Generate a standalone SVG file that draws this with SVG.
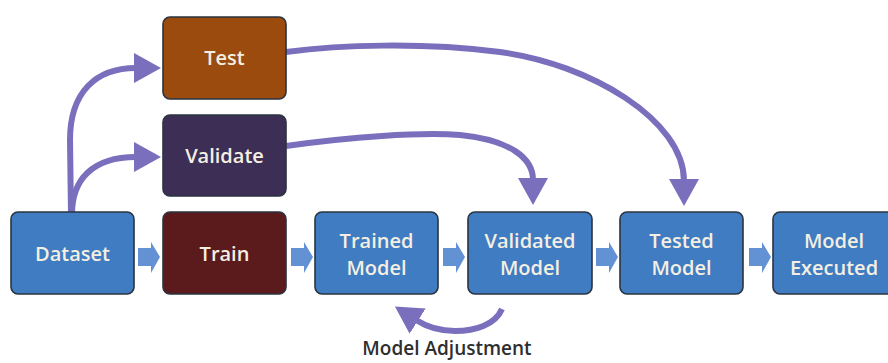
<svg xmlns="http://www.w3.org/2000/svg" width="888" height="363" viewBox="0 0 888 363">
  <style>
    .box { stroke: #2b3340; stroke-width: 1.6; }
    .blue { fill: #3f7cc1; }
    .test { fill: #9b4b0d; }
    .validate { fill: #3d2e55; }
    .train { fill: #5b1b1d; }
    .label { font-family: "Open Sans", "Liberation Sans", sans-serif; font-weight: 600; font-size: 20px; fill: #f4efe2; text-anchor: middle; }
    .flow { fill: none; stroke: #7a6fbd; stroke-width: 6; }
    .step { fill: #6392d4; }
    .caption { font-family: "Open Sans", "Liberation Sans", sans-serif; font-weight: 600; font-size: 19px; fill: #2e2e2e; text-anchor: middle; }
  </style>
  <defs>
    <marker id="head" markerUnits="userSpaceOnUse" markerWidth="30" markerHeight="32" refX="2" refY="15" orient="auto">
      <path d="M0,0 L27,15 L0,30 Z" fill="#7a6fbd"/>
    </marker>
    <path id="step" d="M0,6 H13 V0 L22,15 L13,31 V24 H0 Z"/>
  </defs>

  <rect width="888" height="363" fill="#ffffff"/>

  <!-- connectors -->
  <g id="connectors">
    <path class="flow" d="M71,214 L70,140 C70,92 96,68 136,68" marker-end="url(#head)"/>
    <path class="flow" d="M72,214 C72,180 92,157 136,157" marker-end="url(#head)"/>
    <path class="flow" d="M286,146 C350,137 420,132 460,135 C510,140 533,158 533,180" marker-end="url(#head)"/>
    <path class="flow" d="M286,52 C340,45 420,42 500,52 C590,64 684,120 684,181" marker-end="url(#head)"/>
    <path class="flow" d="M502,309 C495,325 475,331 455,331 C440,331 427,327 416,320" marker-end="url(#head)"/>
    <use href="#step" class="step" x="138" y="242"/>
    <use href="#step" class="step" x="291" y="242"/>
    <use href="#step" class="step" x="443" y="242"/>
    <use href="#step" class="step" x="596" y="242"/>
    <use href="#step" class="step" x="749" y="242"/>
  </g>

  <!-- nodes -->
  <g id="dataset">
    <rect class="box blue" x="11" y="212" width="123" height="82" rx="7"/>
    <text class="label" x="72.5" y="261">Dataset</text>
  </g>
  <g id="test">
    <rect class="box test" x="163" y="17" width="123" height="82" rx="7"/>
    <text class="label" x="224.5" y="65">Test</text>
  </g>
  <g id="validate">
    <rect class="box validate" x="163" y="115" width="123" height="81" rx="7"/>
    <text class="label" x="224.5" y="163">Validate</text>
  </g>
  <g id="train">
    <rect class="box train" x="163" y="212" width="123" height="82" rx="7"/>
    <text class="label" x="224.5" y="261">Train</text>
  </g>
  <g id="trained-model">
    <rect class="box blue" x="315" y="212" width="123" height="82" rx="7"/>
    <text class="label" x="376.5" y="248">Trained</text>
    <text class="label" x="376.5" y="275">Model</text>
  </g>
  <g id="validated-model">
    <rect class="box blue" x="468" y="212" width="124" height="82" rx="7"/>
    <text class="label" x="530" y="248">Validated</text>
    <text class="label" x="530" y="275">Model</text>
  </g>
  <g id="tested-model">
    <rect class="box blue" x="620" y="212" width="123" height="82" rx="7"/>
    <text class="label" x="681.5" y="248">Tested</text>
    <text class="label" x="681.5" y="275">Model</text>
  </g>
  <g id="model-executed">
    <rect class="box blue" x="773" y="212" width="123" height="82" rx="7"/>
    <text class="label" x="834" y="248">Model</text>
    <text class="label" x="834" y="275">Executed</text>
  </g>

  <text class="caption" x="447" y="355">Model Adjustment</text>
</svg>
